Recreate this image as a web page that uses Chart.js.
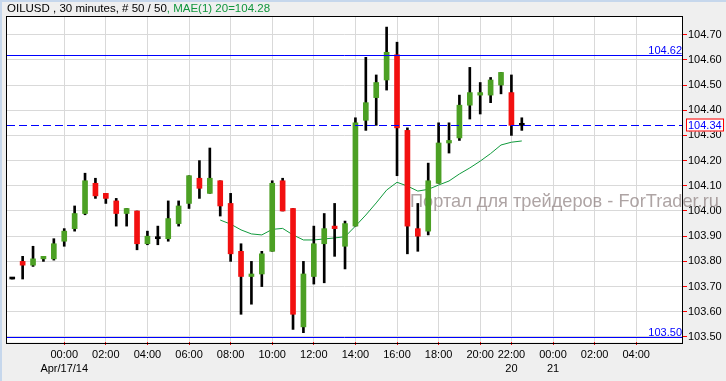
<!DOCTYPE html>
<html>
<head>
<meta charset="utf-8">
<script src="https://cdn.jsdelivr.net/npm/chart.js@4.4.0/dist/chart.umd.min.js"></script>
<style>
html, body { margin: 0; padding: 0; background: #efefef; }
#wrap { width: 726px; height: 381px; }
</style>
</head>
<body>
<div id="wrap"><canvas id="chart" width="726" height="381"></canvas></div>
<script>
// OILUSD 30 min candles (index 0..49)
var opens  = [103.73, 103.80, 103.785, 103.81, 103.81, 103.88, 103.93, 103.99, 104.11, 104.07,
              104.04, 103.99, 104.00, 103.87, 103.89, 103.89, 103.95, 104.03, 104.13, 104.07,
              104.12, 104.03, 103.84, 103.74, 103.75, 103.84, 104.12, 104.01, 103.54, 103.74,
              103.87, 103.94, 103.86, 103.94, 104.36, 104.45, 104.52, 104.62, 104.32, 103.93,
              103.92, 104.11, 104.27, 104.29, 104.42, 104.46, 104.46, 104.50, 104.47, 104.34];
var highs  = [103.73, 103.82, 103.86, 103.82, 103.89, 103.93, 104.02, 104.15, 104.13, 104.07,
              104.05, 104.01, 104.00, 103.92, 103.94, 104.04, 104.04, 104.14, 104.20, 104.25,
              104.12, 104.07, 103.87, 103.80, 103.84, 104.12, 104.13, 104.01, 103.80, 103.94,
              103.99, 104.03, 103.96, 104.37, 104.61, 104.54, 104.73, 104.67, 104.33, 104.03,
              104.19, 104.35, 104.35, 104.46, 104.57, 104.51, 104.53, 104.55, 104.54, 104.37];
var lows   = [103.73, 103.73, 103.78, 103.80, 103.805, 103.86, 103.92, 103.985, 104.05, 104.03,
              103.94, 103.94, 103.846, 103.866, 103.866, 103.88, 103.94, 104.01, 104.05, 104.07,
              103.98, 103.80, 103.59, 103.63, 103.70, 103.84, 104.00, 103.53, 103.517, 103.71,
              103.715, 103.82, 103.77, 103.94, 104.32, 104.34, 104.48, 104.14, 103.83, 103.84,
              103.905, 104.11, 104.23, 104.28, 104.365, 104.385, 104.43, 104.465, 104.30, 104.32];
var closes = [103.73, 103.785, 103.81, 103.82, 103.87, 103.92, 103.99, 104.12, 104.06, 104.05,
              103.99, 104.01, 103.87, 103.90, 103.89, 103.97, 104.02, 104.14, 104.09, 104.13,
              104.02, 103.83, 103.74, 103.75, 103.83, 104.11, 104.00, 103.59, 103.75, 103.87,
              103.93, 103.93, 103.95, 104.35, 104.43, 104.51, 104.63, 104.33, 103.94, 103.90,
              104.12, 104.27, 104.28, 104.42, 104.47, 104.47, 104.52, 104.55, 104.34, 104.34];
// MAE(1) 20, starts at bar 20
var maStart = 20;
var maValues = [103.964, 103.948, 103.925, 103.909, 103.905, 103.927, 103.931, 103.905, 103.885, 103.885,
                103.889, 103.893, 103.898, 103.940, 103.984, 104.032, 104.083, 104.114, 104.099, 104.079,
                104.086, 104.103, 104.119, 104.147, 104.171, 104.198, 104.228, 104.262, 104.273, 104.278];

var timeTickIdx = [5, 9, 13, 17, 21, 25, 29, 33, 37, 41, 45, 48, 52, 56, 60];
var timeLabels = [['00:00', 'Apr/17/14'], '02:00', '04:00', '06:00', '08:00', '10:00', '12:00',
                  '14:00', '16:00', '18:00', '20:00', ['22:00', '20'], ['00:00', '21'], '02:00', '04:00'];
var priceTicks = [103.5, 103.6, 103.7, 103.8, 103.9, 104.0, 104.1, 104.2, 104.3, 104.4, 104.5, 104.6, 104.7];

var hiLevel = 104.62;
var loLevel = 103.50;
var lastPrice = 104.34;

var FONT = '"Liberation Sans", Arial, sans-serif';
var GREEN = '#4ca024';
var RED = '#f21010';
var LINEBLUE = '#0000ff';

var bodies = [], wicks = [], bodyColors = [], ma = [];
for (var i = 0; i < opens.length; i++) {
    bodies.push({ x: i, y: [opens[i], closes[i]] });
    wicks.push({ x: i, y: [lows[i], highs[i]] });
    if (closes[i] > opens[i]) bodyColors.push(GREEN);
    else if (closes[i] < opens[i]) bodyColors.push(RED);
    else bodyColors.push('#000000');
}
for (var j = 0; j < maValues.length; j++) {
    ma.push({ x: maStart + j, y: maValues[j] });
}

// draw text squeezed/stretched to a given width
function fitText(ctx, text, x, y, size, width) {
    ctx.font = size + 'px ' + FONT;
    var w = ctx.measureText(text).width;
    ctx.font = (size * width / w).toFixed(2) + 'px ' + FONT;
    ctx.fillText(text, x, y);
}

var decor = {
    id: 'decor',
    beforeDraw: function(chart) {
        var ctx = chart.ctx, a = chart.chartArea;
        ctx.save();
        ctx.fillStyle = '#efefef';
        ctx.fillRect(0, 0, chart.width, chart.height);
        ctx.fillStyle = '#c6d7ec';
        ctx.fillRect(0, 0, chart.width, 2);
        ctx.fillRect(0, 0, 2, chart.height);
        ctx.fillStyle = '#ffffff';
        ctx.fillRect(a.left, a.top, a.right - a.left, a.bottom - a.top);
        ctx.restore();
    },
    beforeDatasetsDraw: function(chart) {
        var ctx = chart.ctx;
        ctx.save();
        ctx.fillStyle = 'rgba(140, 125, 125, 0.7)';
        ctx.textBaseline = 'middle';
        ctx.textAlign = 'left';
        fitText(ctx, 'Портал для трейдеров - ForTrader.ru', 410, 202, 17, 309);
        ctx.restore();
    },
    afterDraw: function(chart) {
        var ctx = chart.ctx, a = chart.chartArea, y = chart.scales.y;
        ctx.save();

        // frame
        ctx.strokeStyle = '#000000';
        ctx.lineWidth = 1;
        ctx.strokeRect(a.left + 0.5, a.top + 0.5, a.right - a.left - 1, a.bottom - a.top + 1);

        // level lines
        ctx.strokeStyle = LINEBLUE;
        [hiLevel, loLevel].forEach(function(v) {
            var py = Math.round(y.getPixelForValue(v)) + 0.5;
            ctx.beginPath();
            ctx.moveTo(a.left + 1, py);
            ctx.lineTo(a.right - 1, py);
            ctx.stroke();
        });
        var pl = Math.round(y.getPixelForValue(lastPrice)) + 0.5;
        ctx.setLineDash([8, 4]);
        ctx.beginPath();
        ctx.moveTo(a.left + 1, pl);
        ctx.lineTo(a.right - 1, pl);
        ctx.stroke();
        ctx.setLineDash([]);

        ctx.font = '11px ' + FONT;
        ctx.fillStyle = LINEBLUE;
        ctx.textAlign = 'right';
        ctx.textBaseline = 'bottom';
        [hiLevel, loLevel].forEach(function(v) {
            var py = Math.round(y.getPixelForValue(v));
            ctx.fillText(v.toFixed(2), a.right - 1, py + 1);
        });

        // last price box
        ctx.fillStyle = '#ffffff';
        ctx.fillRect(686, pl - 6, 38, 12);
        ctx.strokeStyle = '#ff0000';
        ctx.strokeRect(686.5, pl - 6.5, 37, 12);
        ctx.fillStyle = LINEBLUE;
        ctx.textAlign = 'left';
        ctx.textBaseline = 'middle';
        ctx.fillText(lastPrice.toFixed(2), 688, pl);

        // title
        ctx.textBaseline = 'middle';
        ctx.font = '11.5px ' + FONT;
        ctx.fillStyle = '#000000';
        var t1 = 'OILUSD , 30 minutes, # 50 / 50';
        ctx.fillText(t1, 7, 9);
        var w = ctx.measureText(t1).width;
        ctx.fillStyle = '#10963c';
        ctx.fillText(', MAE(1) 20=' + maValues[maValues.length - 1].toFixed(2), 7 + w, 9);
        ctx.restore();
    }
};

new Chart(document.getElementById('chart'), {
    type: 'bar',
    data: {
        datasets: [{
            type: 'bar',
            data: bodies,
            backgroundColor: bodyColors,
            borderWidth: 0,
            barThickness: 5,
            minBarLength: 2,
            grouped: false
        }, {
            type: 'bar',
            data: wicks,
            backgroundColor: '#000000',
            borderWidth: 0,
            barThickness: 2,
            grouped: false
        }, {
            type: 'line',
            data: ma,
            borderColor: '#109a3c',
            borderWidth: 1,
            pointRadius: 0,
            tension: 0,
            fill: false
        }]
    },
    options: {
        responsive: false,
        animation: false,
        layout: { padding: { left: 6, top: 16, right: 0, bottom: 0 } },
        plugins: { legend: { display: false }, tooltip: { enabled: false } },
        scales: {
            x: {
                type: 'linear',
                min: -0.6,
                max: 64.5,
                offset: false,
                afterBuildTicks: function(s) {
                    s.ticks = timeTickIdx.map(function(v) { return { value: v }; });
                },
                afterFit: function(s) { s.height = 39; },
                grid: { color: '#d9d9d9', tickColor: '#ff0000', tickLength: 3, offset: false },
                border: { display: false },
                ticks: {
                    autoSkip: false,
                    maxRotation: 0,
                    padding: 2,
                    color: '#000000',
                    font: { family: FONT, size: 11, lineHeight: 1.36 },
                    callback: function(v, idx) { return timeLabels[idx]; }
                }
            },
            y: {
                position: 'right',
                min: 103.48,
                max: 104.774,
                afterBuildTicks: function(s) {
                    s.ticks = priceTicks.map(function(v) { return { value: v }; });
                },
                afterFit: function(s) { s.width = 43; },
                grid: { color: '#d9d9d9', tickColor: '#ff0000', tickLength: 4 },
                border: { display: false },
                ticks: {
                    padding: 1,
                    color: '#000000',
                    font: { family: FONT, size: 11 },
                    callback: function(v) { return Number(v).toFixed(2); }
                }
            }
        }
    },
    plugins: [decor]
});
</script>
</body>
</html>
